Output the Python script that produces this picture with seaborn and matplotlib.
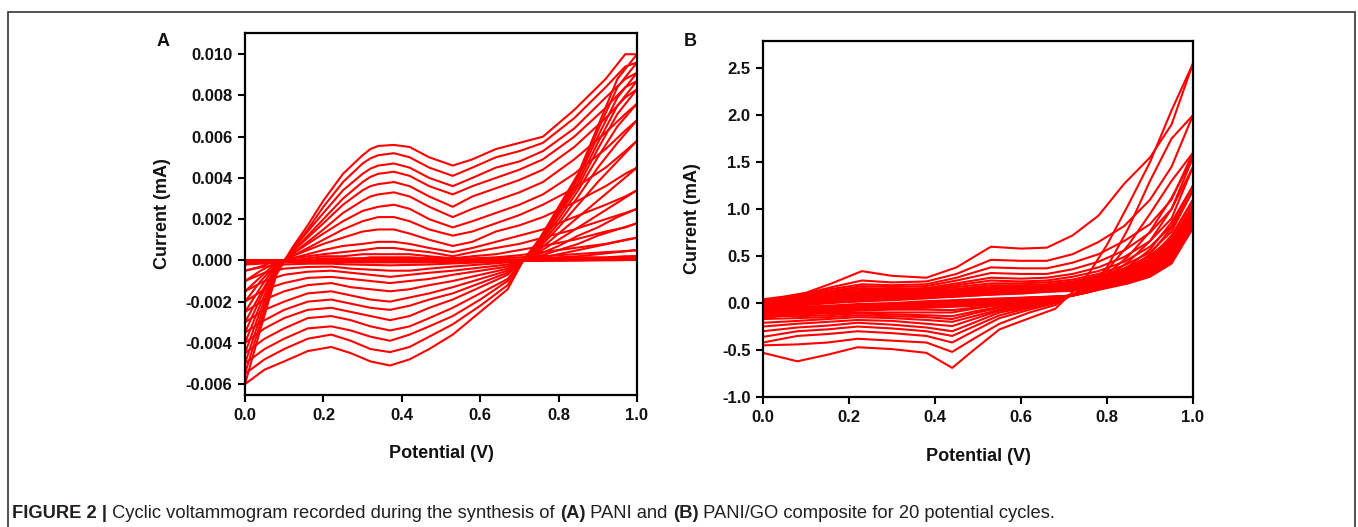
import matplotlib
matplotlib.use("Agg")
import matplotlib.pyplot as plt
from matplotlib.patches import Rectangle
import numpy as np
import pandas as pd
import seaborn as sns

# ---------------- Panel A : PANI (currents read in microampere, shown in mA) -------------
A_FWD_X = [0.00, 0.04, 0.08, 0.12, 0.16, 0.20, 0.25, 0.30, 0.32, 0.34, 0.38, 0.42,
           0.47, 0.53, 0.58, 0.64, 0.70, 0.76, 0.84, 0.92, 0.97, 1.00]
A_FWD_uA = [
    [0, 0, 0, 0, 0, 0, 0, 0, 0, 0, 0, 0, 0, 0, 0, 0, 0, 0, 0, 0.01, 0.02, 0.02],
    [0, 0, 0, 0, 0, 0, 0, 0, 0, 0, 0, 0, 0, 0, 0, 0, 0, 0, 0.02, 0.03, 0.04, 0.04],
    [0, 0, 0, 0, 0, 0, 0, 0, 0, 0, 0, 0, 0, 0, 0, 0, 0, 0.02, 0.03, 0.05, 0.05, 0.06],
    [0, 0, 0, 0, 0, 0, 0, 0, 0, 0, 0, 0, 0, 0, 0, 0, 0.02, 0.03, 0.05, 0.07, 0.08, 0.08],
    [0, 0, 0, 0, 0, 0, 0, 0.03, 0.03, 0.03, 0.03, 0.03, 0.03, 0.03, 0.03, 0.03, 0.03, 0.05, 0.08, 0.1, 0.1, 0.1],
    [-0.05, 0, 0, 0, 0, 0, 0.05, 0.05, 0.05, 0.05, 0.05, 0.05, 0.05, 0.05, 0.05, 0.05, 0.05, 0.1, 0.15, 0.15, 0.2, 0.2],
    [-0.1, -0.05, 0, 0, 0, 0.05, 0.05, 0.1, 0.1, 0.1, 0.1, 0.1, 0.1, 0.05, 0.05, 0.1, 0.15, 0.2, 0.3, 0.4, 0.45, 0.5],
    [-0.2, -0.1, 0, 0, 0, 0.1, 0.1, 0.1, 0.15, 0.15, 0.15, 0.15, 0.1, 0.1, 0.1, 0.15, 0.25, 0.4, 0.6, 0.8, 1.0, 1.1],
    [-0.5, -0.3, 0, 0, 0.1, 0.2, 0.2, 0.3, 0.3, 0.3, 0.3, 0.3, 0.2, 0.1, 0.2, 0.3, 0.5, 0.7, 1.0, 1.4, 1.6, 1.8],
    [-1.0, -0.5, -0.1, 0.1, 0.2, 0.3, 0.4, 0.5, 0.55, 0.6, 0.6, 0.5, 0.4, 0.2, 0.4, 0.6, 0.8, 1.1, 1.5, 2.0, 2.3, 2.5],
    [-1.5, -0.8, -0.1, 0.1, 0.3, 0.5, 0.7, 0.8, 0.85, 0.9, 0.9, 0.8, 0.6, 0.4, 0.6, 0.9, 1.2, 1.5, 2.1, 2.7, 3.1, 3.4],
    [-2.0, -1.0, -0.2, 0.2, 0.5, 0.8, 1.1, 1.4, 1.45, 1.5, 1.5, 1.3, 1.0, 0.7, 0.9, 1.4, 1.7, 2.1, 2.8, 3.6, 4.2, 4.5],
    [-2.5, -1.3, -0.2, 0.2, 0.6, 1.0, 1.5, 1.9, 2.0, 2.1, 2.1, 1.9, 1.5, 1.2, 1.4, 1.8, 2.2, 2.7, 3.5, 4.5, 5.3, 5.8],
    [-3.0, -1.6, -0.3, 0.3, 0.8, 1.3, 1.9, 2.4, 2.5, 2.6, 2.7, 2.5, 2.0, 1.6, 1.9, 2.3, 2.7, 3.2, 4.2, 5.4, 6.3, 6.8],
    [-3.5, -1.8, -0.3, 0.3, 0.9, 1.5, 2.3, 2.9, 3.1, 3.2, 3.3, 3.1, 2.6, 2.1, 2.5, 2.9, 3.3, 3.8, 4.9, 6.2, 7.1, 7.6],
    [-4.0, -2.1, -0.4, 0.4, 1.1, 1.8, 2.7, 3.4, 3.6, 3.7, 3.8, 3.6, 3.1, 2.6, 3.1, 3.5, 3.9, 4.4, 5.5, 6.9, 7.9, 8.3],
    [-4.5, -2.4, -0.5, 0.4, 1.2, 2.0, 3.0, 3.8, 4.05, 4.2, 4.3, 4.1, 3.6, 3.2, 3.6, 4.0, 4.4, 4.9, 6.0, 7.4, 8.4, 8.7],
    [-5.0, -2.7, -0.5, 0.5, 1.4, 2.3, 3.4, 4.2, 4.45, 4.6, 4.7, 4.5, 4.0, 3.6, 4.0, 4.5, 4.8, 5.3, 6.4, 7.9, 8.8, 9.1],
    [-5.5, -3.0, -0.6, 0.5, 1.5, 2.6, 3.8, 4.7, 4.95, 5.1, 5.2, 5.0, 4.5, 4.1, 4.5, 5.0, 5.3, 5.7, 6.9, 8.4, 9.4, 9.6],
    [-6.0, -3.3, -0.7, 0.6, 1.7, 2.9, 4.2, 5.1, 5.4, 5.55, 5.6, 5.5, 5.0, 4.6, 4.9, 5.4, 5.7, 6.0, 7.3, 8.8, 10.0, 10.0],
]
A_REV_X = [1.00, 0.95, 0.90, 0.85, 0.80, 0.75, 0.71, 0.67, 0.60, 0.53,
           0.47, 0.42, 0.37, 0.32, 0.27, 0.22, 0.16, 0.10, 0.05, 0.00]
A_REV_uA = [
    [0.02, 0.01, 0.01, 0, 0, 0, 0, 0, 0, 0, 0, 0, 0, 0, 0, 0, 0, 0, 0, 0],
    [0.04, 0.03, 0.02, 0.01, 0, 0, 0, 0, 0, 0, 0, 0, 0, 0, 0, 0, 0, 0, 0, 0],
    [0.06, 0.05, 0.03, 0.02, 0.01, 0, 0, 0, 0, 0, 0, 0, 0, 0, 0, 0, 0, 0, 0, 0],
    [0.08, 0.06, 0.04, 0.03, 0.02, 0.01, 0, 0, 0, 0, 0, 0, 0, 0, 0, 0, 0, 0, 0, 0],
    [0.1, 0.08, 0.06, 0.04, 0.02, 0.01, 0, 0, 0, 0, -0.01, -0.01, -0.01, -0.01, -0.01, -0.01, -0.01, -0.01, -0.01, 0],
    [0.2, 0.15, 0.1, 0.1, 0.05, 0.02, 0, 0, 0, -0.01, -0.02, -0.02, -0.02, -0.02, -0.02, -0.02, -0.02, -0.02, -0.03, -0.05],
    [0.5, 0.4, 0.3, 0.2, 0.15, 0.05, 0, 0, -0.02, -0.03, -0.04, -0.05, -0.05, -0.05, -0.04, -0.04, -0.04, -0.05, -0.07, -0.1],
    [1.1, 0.9, 0.7, 0.5, 0.3, 0.1, 0, -0.03, -0.05, -0.08, -0.1, -0.1, -0.1, -0.1, -0.1, -0.08, -0.08, -0.1, -0.15, -0.2],
    [1.8, 1.5, 1.2, 0.8, 0.5, 0.2, 0, -0.05, -0.1, -0.15, -0.2, -0.22, -0.24, -0.22, -0.2, -0.16, -0.16, -0.2, -0.3, -0.5],
    [2.5, 2.1, 1.6, 1.2, 0.7, 0.3, 0, -0.1, -0.2, -0.3, -0.4, -0.5, -0.5, -0.45, -0.4, -0.3, -0.32, -0.4, -0.6, -1.0],
    [3.4, 2.8, 2.2, 1.6, 1.0, 0.4, 0, -0.2, -0.35, -0.5, -0.6, -0.7, -0.8, -0.7, -0.6, -0.5, -0.55, -0.7, -1.0, -1.5],
    [4.5, 3.7, 2.9, 2.1, 1.3, 0.5, 0, -0.3, -0.5, -0.7, -0.9, -1.0, -1.1, -1.0, -0.9, -0.8, -0.85, -1.1, -1.4, -2.0],
    [5.8, 4.8, 3.8, 2.7, 1.6, 0.6, 0, -0.4, -0.7, -1.0, -1.2, -1.4, -1.5, -1.4, -1.3, -1.1, -1.2, -1.5, -1.9, -2.5],
    [6.8, 5.7, 4.5, 3.1, 1.8, 0.7, 0, -0.5, -0.9, -1.3, -1.6, -1.8, -2.0, -1.9, -1.7, -1.5, -1.6, -2.0, -2.4, -3.0],
    [7.6, 6.5, 5.0, 3.4, 2.0, 0.8, 0, -0.6, -1.1, -1.6, -1.9, -2.2, -2.4, -2.3, -2.1, -1.9, -2.0, -2.4, -2.9, -3.5],
    [8.3, 7.1, 5.4, 3.6, 2.2, 0.8, 0, -0.7, -1.3, -1.9, -2.3, -2.7, -2.9, -2.7, -2.5, -2.3, -2.4, -2.8, -3.3, -4.0],
    [8.7, 7.5, 5.7, 3.8, 2.3, 0.9, 0, -0.9, -1.6, -2.3, -2.8, -3.2, -3.4, -3.2, -2.9, -2.7, -2.8, -3.3, -3.8, -4.5],
    [9.1, 7.9, 6.0, 4.0, 2.4, 0.9, 0, -1.0, -1.9, -2.7, -3.2, -3.6, -3.9, -3.7, -3.4, -3.2, -3.3, -3.8, -4.3, -5.0],
    [9.6, 8.4, 6.3, 4.1, 2.5, 1.0, 0, -1.2, -2.2, -3.1, -3.7, -4.2, -4.45, -4.3, -3.9, -3.6, -3.8, -4.3, -4.8, -5.5],
    [10.0, 8.8, 6.5, 4.2, 2.6, 1.0, 0, -1.4, -2.5, -3.6, -4.3, -4.8, -5.1, -4.9, -4.5, -4.2, -4.4, -4.9, -5.3, -6.0],
]
A_YTICKS = [-0.006, -0.004, -0.002, 0.000, 0.002, 0.004, 0.006, 0.008, 0.010]
A_YTICK_LABELS = ["-0.006", "-0.004", "-0.002", "0.000", "0.002", "0.004", "0.006", "0.008", "0.010"]

# ---------------- Panel B : PANI/GO (currents in mA) ----------------
B_FWD_X = [0.00, 0.05, 0.10, 0.16, 0.23, 0.30, 0.38, 0.45, 0.53, 0.60, 0.66,
           0.72, 0.78, 0.84, 0.90, 0.95, 1.00]
B_FWD = [
    [-0.04, -0.03, -0.02, 0.00, 0.02, 0.03, 0.05, 0.07, 0.09, 0.10, 0.12, 0.13, 0.17, 0.22, 0.30, 0.44, 0.80],
    [-0.03, -0.02, -0.01, 0.01, 0.02, 0.04, 0.06, 0.07, 0.09, 0.11, 0.12, 0.14, 0.18, 0.23, 0.32, 0.47, 0.82],
    [-0.02, -0.01, 0.00, 0.01, 0.03, 0.04, 0.06, 0.08, 0.10, 0.11, 0.13, 0.15, 0.19, 0.24, 0.34, 0.50, 0.84],
    [-0.01, 0.00, 0.01, 0.02, 0.03, 0.05, 0.07, 0.08, 0.10, 0.12, 0.13, 0.15, 0.20, 0.26, 0.36, 0.53, 0.86],
    [0.00, 0.01, 0.01, 0.03, 0.04, 0.05, 0.07, 0.09, 0.11, 0.12, 0.14, 0.16, 0.21, 0.27, 0.38, 0.56, 0.88],
    [0.00, 0.01, 0.02, 0.03, 0.05, 0.06, 0.08, 0.09, 0.11, 0.13, 0.14, 0.17, 0.22, 0.29, 0.40, 0.59, 0.90],
    [0.01, 0.02, 0.03, 0.04, 0.06, 0.07, 0.08, 0.10, 0.12, 0.14, 0.15, 0.18, 0.23, 0.30, 0.42, 0.61, 0.92],
    [0.01, 0.02, 0.03, 0.05, 0.07, 0.08, 0.09, 0.11, 0.13, 0.15, 0.16, 0.19, 0.24, 0.32, 0.44, 0.63, 0.94],
    [0.02, 0.03, 0.04, 0.06, 0.08, 0.09, 0.10, 0.12, 0.14, 0.16, 0.17, 0.20, 0.26, 0.34, 0.47, 0.65, 0.96],
    [0.02, 0.03, 0.05, 0.07, 0.09, 0.10, 0.11, 0.13, 0.15, 0.17, 0.18, 0.22, 0.28, 0.36, 0.50, 0.68, 0.98],
    [0.02, 0.04, 0.06, 0.08, 0.10, 0.11, 0.12, 0.14, 0.16, 0.17, 0.18, 0.21, 0.26, 0.33, 0.44, 0.62, 1.00],
    [0.02, 0.04, 0.06, 0.09, 0.11, 0.11, 0.12, 0.14, 0.17, 0.17, 0.18, 0.22, 0.27, 0.35, 0.47, 0.66, 1.05],
    [0.02, 0.04, 0.06, 0.09, 0.12, 0.12, 0.13, 0.15, 0.19, 0.19, 0.20, 0.23, 0.29, 0.37, 0.50, 0.70, 1.10],
    [0.03, 0.05, 0.07, 0.10, 0.13, 0.13, 0.14, 0.17, 0.21, 0.21, 0.22, 0.25, 0.31, 0.40, 0.54, 0.76, 1.20],
    [0.03, 0.05, 0.07, 0.11, 0.15, 0.14, 0.15, 0.19, 0.24, 0.23, 0.24, 0.28, 0.34, 0.44, 0.60, 0.82, 1.25],
    [0.03, 0.05, 0.08, 0.12, 0.16, 0.15, 0.16, 0.21, 0.27, 0.26, 0.27, 0.31, 0.38, 0.49, 0.66, 0.90, 1.45],
    [0.03, 0.05, 0.08, 0.13, 0.18, 0.17, 0.18, 0.24, 0.32, 0.31, 0.31, 0.36, 0.44, 0.56, 0.75, 1.00, 1.55],
    [0.03, 0.06, 0.09, 0.15, 0.20, 0.19, 0.20, 0.27, 0.38, 0.37, 0.37, 0.43, 0.52, 0.66, 0.84, 1.10, 1.60],
    [0.03, 0.06, 0.10, 0.17, 0.24, 0.22, 0.23, 0.31, 0.46, 0.45, 0.45, 0.52, 0.65, 0.82, 1.10, 1.45, 2.00],
    [0.04, 0.07, 0.11, 0.21, 0.34, 0.29, 0.27, 0.38, 0.60, 0.58, 0.59, 0.72, 0.93, 1.27, 1.55, 1.90, 2.55],
]
B_REV_X = [1.00, 0.95, 0.90, 0.85, 0.80, 0.76, 0.72, 0.68, 0.62, 0.55, 0.49,
           0.44, 0.38, 0.30, 0.22, 0.15, 0.08, 0.00]
B_REV = [
    [0.80, 0.42, 0.28, 0.21, 0.16, 0.12, 0.08, 0.07, 0.06, 0.05, 0.04, 0.03, 0.02, 0.00, -0.01, -0.03, -0.04, -0.05],
    [0.82, 0.44, 0.29, 0.22, 0.17, 0.12, 0.08, 0.07, 0.06, 0.04, 0.03, 0.02, 0.01, -0.01, -0.02, -0.03, -0.05, -0.06],
    [0.84, 0.46, 0.30, 0.22, 0.17, 0.12, 0.08, 0.07, 0.05, 0.04, 0.02, 0.01, 0.00, -0.01, -0.03, -0.04, -0.05, -0.07],
    [0.86, 0.48, 0.31, 0.23, 0.17, 0.12, 0.08, 0.06, 0.05, 0.03, 0.02, 0.01, 0.00, -0.02, -0.03, -0.05, -0.06, -0.08],
    [0.88, 0.50, 0.32, 0.23, 0.18, 0.13, 0.08, 0.06, 0.04, 0.03, 0.01, 0.00, -0.01, -0.03, -0.04, -0.05, -0.07, -0.09],
    [0.90, 0.52, 0.33, 0.24, 0.18, 0.13, 0.08, 0.06, 0.04, 0.02, 0.00, -0.01, -0.02, -0.03, -0.05, -0.06, -0.08, -0.10],
    [0.92, 0.54, 0.34, 0.25, 0.18, 0.13, 0.08, 0.05, 0.03, 0.01, -0.01, -0.02, -0.03, -0.04, -0.05, -0.07, -0.09, -0.11],
    [0.94, 0.56, 0.35, 0.25, 0.19, 0.13, 0.08, 0.05, 0.02, 0.00, -0.02, -0.03, -0.04, -0.05, -0.06, -0.08, -0.10, -0.12],
    [0.96, 0.58, 0.36, 0.26, 0.19, 0.13, 0.08, 0.05, 0.02, -0.01, -0.03, -0.04, -0.05, -0.06, -0.07, -0.09, -0.11, -0.14],
    [0.98, 0.60, 0.38, 0.27, 0.20, 0.14, 0.09, 0.04, 0.01, -0.02, -0.05, -0.075, -0.07, -0.07, -0.08, -0.10, -0.12, -0.16],
    [1.00, 0.62, 0.40, 0.29, 0.21, 0.15, 0.09, 0.05, 0.01, -0.02, -0.06, -0.10, -0.10, -0.10, -0.10, -0.11, -0.12, -0.10],
    [1.05, 0.66, 0.43, 0.31, 0.22, 0.15, 0.09, 0.04, 0.00, -0.04, -0.09, -0.14, -0.13, -0.12, -0.11, -0.13, -0.14, -0.13],
    [1.10, 0.72, 0.47, 0.33, 0.23, 0.15, 0.09, 0.04, -0.01, -0.05, -0.11, -0.17, -0.15, -0.14, -0.13, -0.15, -0.16, -0.17],
    [1.20, 0.80, 0.52, 0.36, 0.24, 0.15, 0.09, 0.03, -0.02, -0.07, -0.14, -0.20, -0.18, -0.16, -0.15, -0.17, -0.19, -0.21],
    [1.25, 0.86, 0.57, 0.39, 0.26, 0.16, 0.09, 0.03, -0.03, -0.08, -0.17, -0.245, -0.22, -0.19, -0.18, -0.20, -0.22, -0.25],
    [1.45, 1.00, 0.66, 0.44, 0.28, 0.17, 0.09, 0.02, -0.04, -0.10, -0.21, -0.30, -0.26, -0.23, -0.21, -0.24, -0.26, -0.30],
    [1.55, 1.12, 0.76, 0.50, 0.31, 0.18, 0.09, 0.01, -0.05, -0.13, -0.25, -0.35, -0.30, -0.27, -0.25, -0.28, -0.30, -0.36],
    [1.60, 1.30, 0.95, 0.62, 0.35, 0.19, 0.09, 0.00, -0.07, -0.16, -0.30, -0.42, -0.35, -0.32, -0.30, -0.33, -0.35, -0.42],
    [2.00, 1.75, 1.30, 0.80, 0.38, 0.17, 0.09, -0.02, -0.10, -0.22, -0.38, -0.52, -0.42, -0.40, -0.38, -0.42, -0.44, -0.45],
    [2.55, 2.05, 1.50, 1.05, 0.62, 0.33, 0.12, -0.06, -0.16, -0.28, -0.50, -0.69, -0.53, -0.49, -0.47, -0.55, -0.62, -0.53],
]
B_YTICKS = [-1.0, -0.5, 0.0, 0.5, 1.0, 1.5, 2.0, 2.5]
B_YTICK_LABELS = ["-1.0", "-0.5", "0.0", "0.5", "1.0", "1.5", "2.0", "2.5"]

X_TICKS = [0.0, 0.2, 0.4, 0.6, 0.8, 1.0]
X_TICK_LABELS = ["0.0", "0.2", "0.4", "0.6", "0.8", "1.0"]

PANEL_LETTERS = ["A", "B"]
X_LABEL = "Potential (V)"
Y_LABEL = "Current (mA)"
CAPTION_PARTS = [("FIGURE 2 |", "bold"),
                 (" Cyclic voltammogram recorded during the synthesis of ", "normal"),
                 ("(A)", "bold"), (" PANI and ", "normal"), ("(B)", "bold"),
                 (" PANI/GO composite for 20 potential cycles.", "normal")]


def to_frame(fx, fwd, rx, rev, factor):
    rows = []
    for i, (f, r) in enumerate(zip(fwd, rev)):
        for x, y in zip(fx, f):
            rows.append((f"c{i}f", x, y * factor))
        for x, y in zip(rx, r):
            rows.append((f"c{i}r", x, y * factor))
    return pd.DataFrame(rows, columns=["trace", "Potential", "Current"])


dfA = to_frame(A_FWD_X, A_FWD_uA, A_REV_X, A_REV_uA, 1e-3)   # uA -> mA
dfB = to_frame(B_FWD_X, B_FWD, B_REV_X, B_REV, 1.0)

sns.set_theme(style="ticks")
plt.rcParams["font.family"] = ["Liberation Sans", "DejaVu Sans"]
plt.rcParams["axes.unicode_minus"] = False

W, H = 1358, 527
fig = plt.figure(figsize=(W / 100, H / 100), dpi=100)
fig.patch.set_facecolor("white")


def px_axes(l, t, r, b):
    return fig.add_axes([l / W, 1 - b / H, (r - l) / W, (b - t) / H])


axA = px_axes(245, 33, 637, 395)
axB = px_axes(763, 41, 1193, 397)

for ax, df in ((axA, dfA), (axB, dfB)):
    sns.lineplot(data=df, x="Potential", y="Current", units="trace", estimator=None,
                 sort=False, color="#ff0000", linewidth=1.5, ax=ax, legend=False)

axA.set_xlim(0, 1.0)
axA.set_ylim(-0.00653, 0.01103)
axB.set_xlim(0, 1.0)
axB.set_ylim(-1.0, 2.79)

axA.set_yticks(A_YTICKS, labels=A_YTICK_LABELS, fontsize=12, fontweight="bold")
axB.set_yticks(B_YTICKS, labels=B_YTICK_LABELS, fontsize=12, fontweight="bold")
for ax in (axA, axB):
    ax.set_xticks(X_TICKS, labels=X_TICK_LABELS, fontsize=12, fontweight="bold")
    ax.tick_params(direction="out", length=5, width=1.5, color="black",
                   labelcolor="#111111", pad=4)
    for s in ax.spines.values():
        s.set_visible(True)
        s.set_linewidth(1.6)
        s.set_color("black")
    ax.set_xlabel(X_LABEL, fontsize=13, fontweight="bold", color="#111111")
    ax.set_ylabel(Y_LABEL, fontsize=13, fontweight="bold", color="#111111")
    ax.set_facecolor("white")

axA.xaxis.set_label_coords(0.5, -0.138)
axA.yaxis.set_label_coords(-0.19, 0.5)
axB.xaxis.set_label_coords(0.5, -0.143)
axB.yaxis.set_label_coords(-0.145, 0.5)

fig.text(163 / W, 1 - 42 / H, PANEL_LETTERS[0], fontsize=13, fontweight="bold",
         ha="center", va="center", color="#111111")
fig.text(690 / W, 1 - 42 / H, PANEL_LETTERS[1], fontsize=13, fontweight="bold",
         ha="center", va="center", color="#111111")

# frame around figure (open at bottom)
fig.add_artist(Rectangle((8 / W, -0.2), (1355 - 8) / W, 1 - 12 / H + 0.2,
                         transform=fig.transFigure, fill=False,
                         edgecolor="#333333", linewidth=1.2, clip_on=False))

# caption
renderer = fig.canvas.get_renderer()
x_px = 12
for txt, wt in CAPTION_PARTS:
    t = fig.text(x_px / W, 1 - 513 / H, txt, fontsize=13.25, fontweight=wt,
                 ha="left", va="center", color="#231f20")
    bb = t.get_window_extent(renderer=renderer)
    x_px = bb.x1

fig.savefig("out.png", dpi=100, facecolor="white")
